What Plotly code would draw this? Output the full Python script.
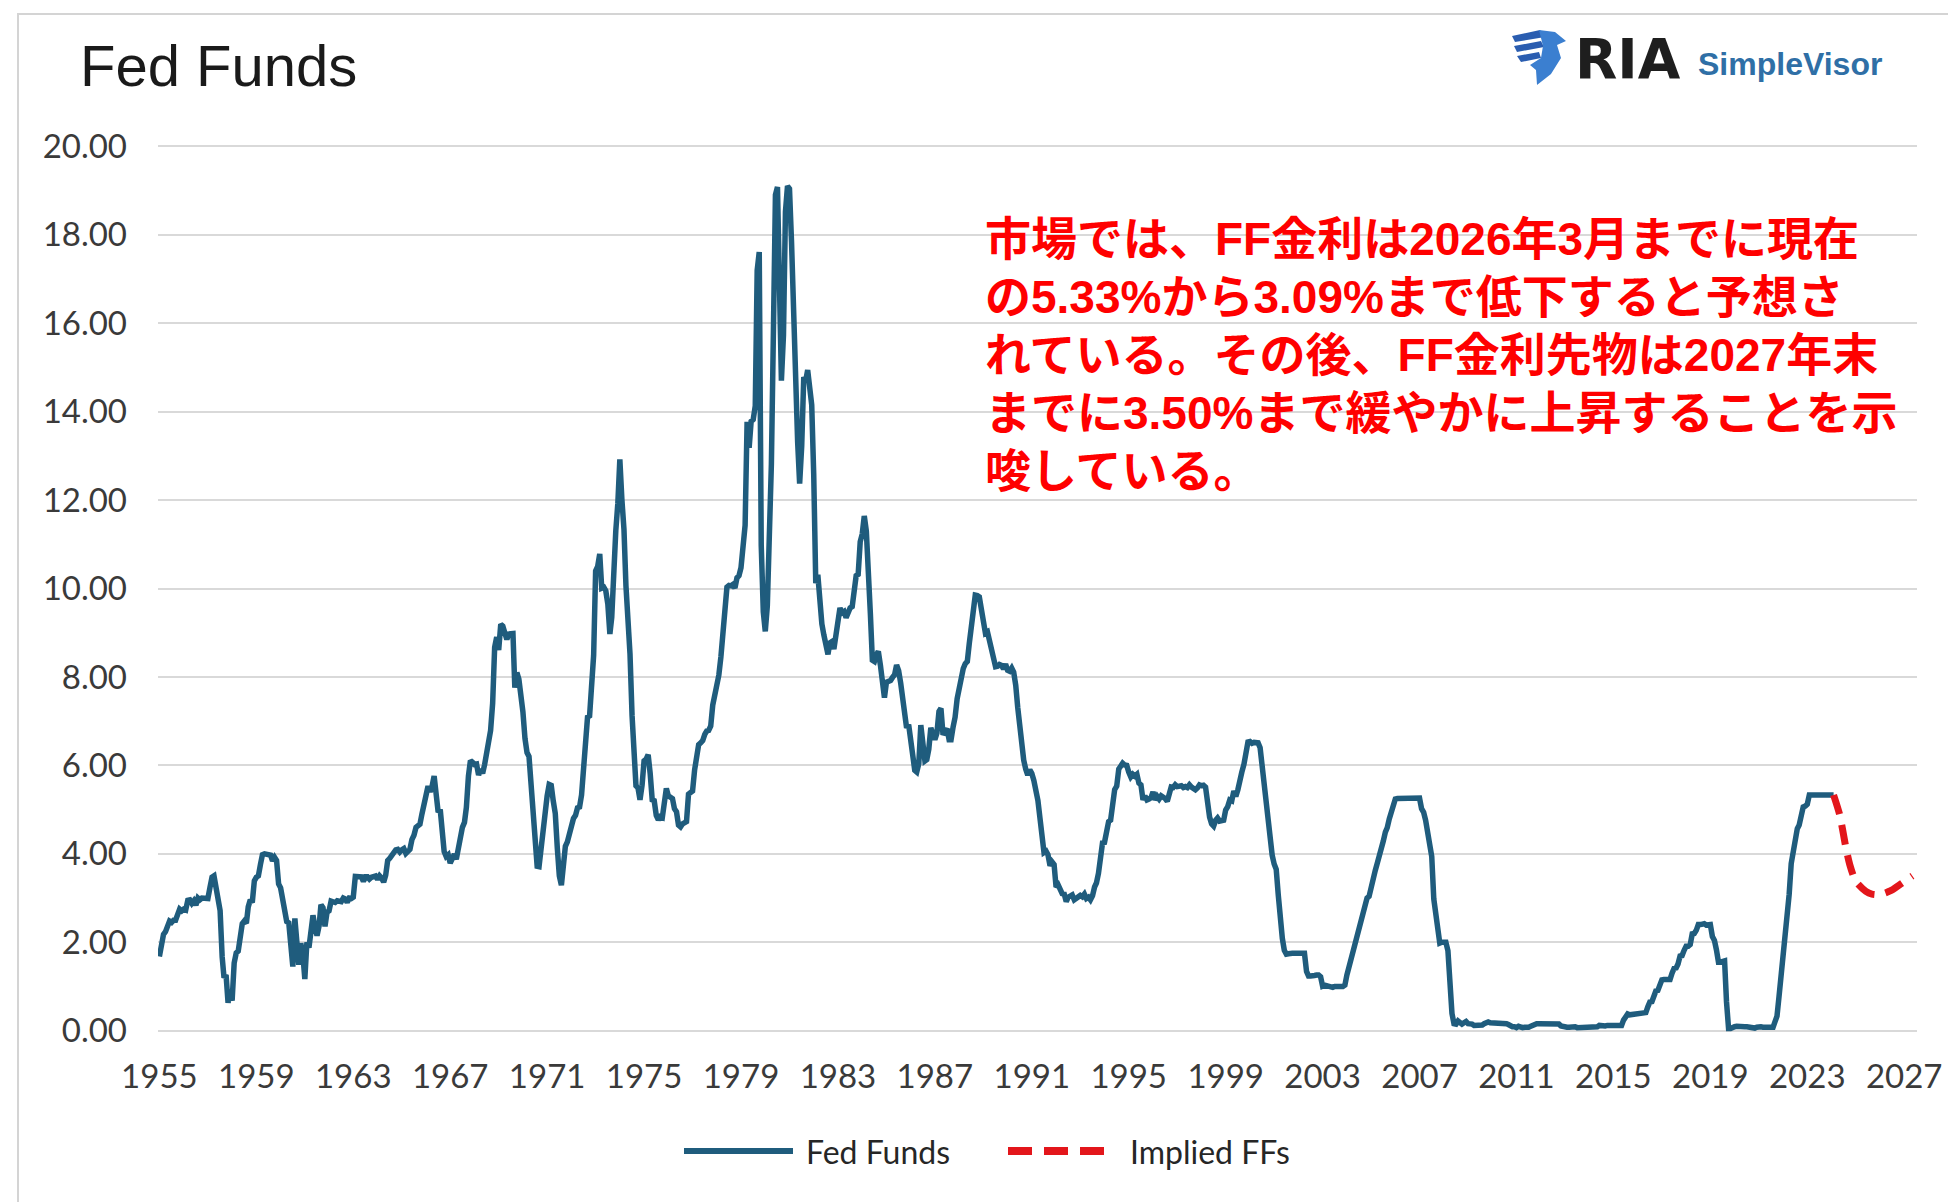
import pandas as pd
import plotly.graph_objects as go

# ---------------- data (monthly effective Fed Funds rate, %) ----------------
ff_1955_1959 = [
    1.68, 1.96, 2.18, 2.24, 2.35, 2.48,
    2.45, 2.50, 2.50, 2.62, 2.75, 2.71, 2.75, 2.73, 2.95, 2.96, 2.88, 2.94,
    2.84, 3.00, 2.96, 3.00, 3.00, 3.00, 2.99, 3.24, 3.47, 3.50, 3.28, 2.98,
    2.72, 1.67, 1.20, 1.26, 0.63, 0.93, 0.68, 1.53, 1.76, 1.80, 2.27, 2.42,
    2.48, 2.43, 2.80, 2.96, 2.90, 3.39, 3.47, 3.50, 3.76, 3.98, 4.00, 3.99,
]
ff_1960s = [
    3.99, 3.97, 3.84, 3.92, 3.85, 3.32, 3.23, 2.98, 2.60, 2.47, 2.44, 1.98,
    1.45, 2.54, 2.02, 1.49, 1.98, 1.73, 1.17, 2.00, 1.88, 2.26, 2.61, 2.33,
    2.15, 2.37, 2.85, 2.78, 2.36, 2.68, 2.71, 2.93, 2.90, 2.90, 2.94, 2.93,
    2.92, 3.00, 2.98, 2.90, 3.00, 2.99, 3.02, 3.49, 3.48, 3.50, 3.48, 3.38,
    3.48, 3.48, 3.43, 3.47, 3.50, 3.50, 3.42, 3.50, 3.45, 3.36, 3.52, 3.85,
    3.90, 3.98, 4.04, 4.09, 4.10, 4.04, 4.09, 4.12, 4.01, 4.08, 4.10, 4.32,
    4.42, 4.60, 4.65, 4.67, 4.90, 5.17, 5.30, 5.53, 5.40, 5.53, 5.76, 5.40,
    4.94, 5.00, 4.53, 4.05, 3.94, 3.98, 3.79, 3.90, 3.99, 3.88, 4.13, 4.51,
    4.60, 4.71, 5.05, 5.76, 6.11, 6.07, 6.02, 6.03, 5.78, 5.91, 5.82, 6.02,
    6.30, 6.64, 6.79, 7.41, 8.67, 8.90, 8.61, 9.19, 9.15, 9.00, 8.85, 8.97,
]
ff_1970s = [
    8.98, 8.98, 7.76, 8.10, 7.95, 7.61, 7.21, 6.61, 6.29, 6.20, 5.60, 4.90,
    4.14, 3.72, 3.71, 4.15, 4.63, 4.91, 5.31, 5.57, 5.55, 5.20, 4.91, 4.14,
    3.50, 3.29, 3.83, 4.17, 4.27, 4.46, 4.55, 4.80, 4.87, 5.04, 5.06, 5.33,
    5.94, 6.58, 7.09, 7.12, 7.84, 8.49, 10.40, 10.50, 10.78, 10.01, 10.03, 9.95,
    9.65, 8.97, 9.35, 10.51, 11.31, 11.93, 12.92, 12.01, 11.34, 10.06, 9.45, 8.53,
    7.13, 6.24, 5.54, 5.49, 5.22, 5.55, 6.10, 6.14, 6.24, 5.82, 5.22, 5.20,
    4.87, 4.77, 4.84, 4.82, 5.29, 5.48, 5.31, 5.29, 5.25, 5.02, 4.95, 4.65,
    4.61, 4.68, 4.69, 4.73, 5.35, 5.39, 5.42, 5.90, 6.14, 6.47, 6.51, 6.56,
    6.70, 6.78, 6.79, 6.89, 7.36, 7.60, 7.81, 8.04, 8.45, 8.96, 9.76, 10.03,
    10.07, 10.06, 10.09, 10.01, 10.24, 10.29, 10.47, 10.94, 11.43, 13.77, 13.18, 13.78,
]
ff_1980s = [
    13.82, 14.13, 17.19, 17.61, 10.98, 9.47, 9.03, 9.61, 10.87, 12.81, 15.85, 18.90,
    19.08, 15.93, 14.70, 15.72, 18.52, 19.10, 19.04, 17.82, 15.87, 15.08, 13.31, 12.37,
    13.22, 14.78, 14.68, 14.94, 14.45, 14.15, 12.59, 10.12, 10.31, 9.71, 9.20, 8.95,
    8.68, 8.51, 8.77, 8.80, 8.63, 8.98, 9.37, 9.56, 9.45, 9.48, 9.34, 9.47,
    9.56, 9.59, 9.91, 10.29, 10.32, 11.06, 11.23, 11.64, 11.30, 9.99, 9.43, 8.38,
    8.35, 8.50, 8.58, 8.27, 7.97, 7.53, 7.88, 7.90, 7.92, 7.99, 8.05, 8.27,
    8.14, 7.86, 7.48, 6.99, 6.85, 6.92, 6.56, 6.17, 5.89, 5.85, 6.04, 6.91,
    6.43, 6.10, 6.13, 6.37, 6.85, 6.73, 6.58, 6.73, 7.22, 7.29, 6.69, 6.77,
    6.83, 6.58, 6.58, 6.87, 7.09, 7.51, 7.75, 8.01, 8.19, 8.30, 8.35, 8.76,
    9.12, 9.36, 9.85, 9.84, 9.81, 9.53, 9.24, 8.99, 9.02, 8.84, 8.55, 8.45,
]
ff_1990s = [
    8.23, 8.24, 8.28, 8.26, 8.18, 8.29, 8.15, 8.13, 8.20, 8.11, 7.81, 7.31,
    6.91, 6.25, 6.12, 5.91, 5.78, 5.90, 5.82, 5.66, 5.45, 5.21, 4.81, 4.43,
    4.03, 4.06, 3.98, 3.73, 3.82, 3.76, 3.25, 3.30, 3.22, 3.10, 3.09, 2.92,
    3.02, 3.03, 3.07, 2.96, 3.00, 3.04, 3.06, 3.03, 3.09, 2.99, 3.02, 2.96,
    3.05, 3.25, 3.34, 3.56, 4.01, 4.25, 4.26, 4.47, 4.73, 4.76, 5.29, 5.45,
    5.53, 5.92, 5.98, 6.05, 6.01, 6.00, 5.85, 5.74, 5.80, 5.76, 5.80, 5.60,
    5.56, 5.22, 5.31, 5.22, 5.24, 5.27, 5.40, 5.22, 5.30, 5.24, 5.31, 5.29,
    5.25, 5.19, 5.39, 5.51, 5.50, 5.56, 5.52, 5.54, 5.54, 5.50, 5.52, 5.50,
    5.56, 5.51, 5.49, 5.45, 5.49, 5.56, 5.54, 5.55, 5.51, 5.07, 4.83, 4.68,
    4.63, 4.76, 4.81, 4.74, 4.74, 4.76, 4.99, 5.07, 5.22, 5.20, 5.42, 5.30,
]
ff_2000s = [
    5.45, 5.73, 5.85, 6.02, 6.27, 6.53, 6.54, 6.50, 6.52, 6.51, 6.51, 6.40,
    5.98, 5.49, 5.31, 4.80, 4.21, 3.97, 3.77, 3.65, 3.07, 2.49, 2.09, 1.82,
    1.73, 1.74, 1.73, 1.75, 1.75, 1.75, 1.73, 1.74, 1.75, 1.75, 1.34, 1.24,
    1.24, 1.26, 1.25, 1.26, 1.26, 1.22, 1.01, 1.03, 1.01, 1.01, 1.00, 0.98,
    1.00, 1.01, 1.00, 1.00, 1.00, 1.03, 1.26, 1.43, 1.61, 1.76, 1.93, 2.16,
    2.28, 2.50, 2.63, 2.79, 3.00, 3.04, 3.26, 3.50, 3.62, 3.78, 4.00, 4.16,
    4.29, 4.49, 4.59, 4.79, 4.94, 4.99, 5.24, 5.25, 5.25, 5.25, 5.25, 5.24,
    5.25, 5.26, 5.26, 5.25, 5.25, 5.25, 5.26, 5.02, 4.94, 4.76, 4.49, 4.24,
    3.94, 2.98, 2.61, 2.28, 1.98, 2.00, 2.01, 2.00, 1.81, 0.97, 0.39, 0.16,
    0.15, 0.22, 0.18, 0.15, 0.18, 0.21, 0.16, 0.16, 0.15, 0.12, 0.12, 0.12,
]
ff_2010s = [
    0.11, 0.13, 0.16, 0.20, 0.20, 0.18, 0.18, 0.19, 0.19, 0.19, 0.19, 0.18,
    0.17, 0.16, 0.14, 0.10, 0.09, 0.09, 0.07, 0.10, 0.08, 0.07, 0.08, 0.07,
    0.08, 0.10, 0.13, 0.14, 0.16, 0.16, 0.16, 0.13, 0.14, 0.16, 0.16, 0.16,
    0.14, 0.15, 0.14, 0.15, 0.11, 0.09, 0.09, 0.08, 0.08, 0.09, 0.08, 0.09,
    0.07, 0.07, 0.08, 0.09, 0.09, 0.10, 0.09, 0.09, 0.09, 0.09, 0.09, 0.12,
    0.11, 0.11, 0.11, 0.12, 0.12, 0.13, 0.13, 0.14, 0.14, 0.12, 0.12, 0.24,
    0.34, 0.38, 0.36, 0.37, 0.37, 0.38, 0.39, 0.40, 0.40, 0.40, 0.41, 0.54,
    0.65, 0.66, 0.79, 0.90, 0.91, 1.04, 1.15, 1.16, 1.15, 1.15, 1.16, 1.30,
    1.41, 1.42, 1.51, 1.69, 1.70, 1.82, 1.91, 1.91, 1.95, 2.19, 2.20, 2.27,
    2.40, 2.40, 2.41, 2.42, 2.39, 2.38, 2.40, 2.13, 2.04, 1.83, 1.55, 1.55,
]
ff_2020s = [
    1.55, 1.58, 0.65, 0.05, 0.05, 0.08, 0.09, 0.10, 0.09, 0.09, 0.09, 0.09,
    0.09, 0.08, 0.07, 0.07, 0.06, 0.08, 0.10, 0.09, 0.08, 0.08, 0.08, 0.08,
    0.08, 0.08, 0.20, 0.33, 0.77, 1.21, 1.68, 2.33, 2.56, 3.08, 3.78, 4.10,
    4.33, 4.57, 4.65, 4.83, 5.06, 5.08, 5.12, 5.33, 5.33, 5.33, 5.33, 5.33,
    5.33, 5.33, 5.33, 5.33, 5.33, 5.33, 5.33, 5.33,
]
implied_dates = ["2024-08-01", "2024-11-01", "2025-02-01", "2025-04-01", "2025-07-01",
                 "2025-12-01", "2026-03-01", "2026-07-01", "2026-12-01", "2027-05-01",
                 "2027-11-01"]
implied_values = [5.33, 4.88, 4.15, 3.76, 3.38, 3.15, 3.09, 3.08, 3.16, 3.31, 3.50]

tick_years = list(range(1955, 2028, 4))
y_ticks = [0, 2, 4, 6, 8, 10, 12, 14, 16, 18, 20]

note_lines = [
    "市場では、FF金利は2026年3月までに現在",
    "の5.33%から3.09%まで低下すると予想さ",
    "れている。その後、FF金利先物は2027年末",
    "までに3.50%まで緩やかに上昇することを示",
    "唆している。",
]

ff_values = (ff_1955_1959 + ff_1960s + ff_1970s + ff_1980s + ff_1990s
             + ff_2000s + ff_2010s + ff_2020s)
ff_dates = pd.date_range("1955-07-01", periods=len(ff_values), freq="MS")

# ---------------- layout geometry ----------------
W, H = 1956, 1202
L, R, T, B = 150, 47, 125, 166
PW, PH = W - L - R, H - T - B


def px(x):
    return (x - L) / PW


def py(y):
    return (H - B - y) / PH


BLUE = "#1f5c7d"
RED = "#e3161b"
TXT = "#3a3a3a"
AXFONT = "Lato"

fig = go.Figure()
fig.add_trace(go.Scatter(
    x=ff_dates, y=ff_values, mode="lines", name="Fed Funds",
    line=dict(color=BLUE, width=5.5), showlegend=False,
))
fig.add_trace(go.Scatter(
    x=implied_dates, y=implied_values, mode="lines", name="Implied FFs",
    line=dict(color=RED, width=7, dash="20px,11px", shape="spline", smoothing=0.7),
    showlegend=False,
))

fig.update_layout(
    width=W, height=H,
    margin=dict(l=L, r=R, t=T, b=B),
    paper_bgcolor="white", plot_bgcolor="white",
    showlegend=False,
    xaxis=dict(
        type="date",
        range=["1955-06-10", "2028-01-10"],
        tickvals=[f"{y}-07-01" for y in tick_years],
        ticktext=[str(y) for y in tick_years],
        showgrid=False, zeroline=False, showline=False, ticks="",
        tickfont=dict(family=AXFONT, size=33, color=TXT),
        ticklabelstandoff=10,
    ),
    yaxis=dict(
        range=[-0.3, 20.3],
        tickvals=y_ticks,
        ticktext=[f"{v:.2f}" for v in y_ticks],
        showgrid=True, gridcolor="#d9d9d9", gridwidth=2,
        zeroline=False, showline=False, ticks="",
        tickfont=dict(family=AXFONT, size=33, color=TXT),
        ticklabelstandoff=30,
    ),
)

annotations = [
    dict(text="Fed Funds", x=px(70), y=py(58), xref="paper", yref="paper",
         xanchor="left", yanchor="middle", showarrow=False,
         font=dict(family="Liberation Sans", size=58, color="#1a1a1a")),
    dict(text="<b>RIA</b>", x=px(1565), y=py(51), xref="paper", yref="paper",
         xanchor="left", yanchor="middle", showarrow=False,
         font=dict(family="DejaVu Sans", size=55, color="#1e1e1e")),
    dict(text="<b>SimpleVisor</b>", x=px(1688), y=py(56), xref="paper", yref="paper",
         xanchor="left", yanchor="middle", showarrow=False,
         font=dict(family="Liberation Sans", size=32, color="#2f6fa6")),
    dict(text="Fed Funds", x=px(796), y=py(1143), xref="paper", yref="paper",
         xanchor="left", yanchor="middle", showarrow=False,
         font=dict(family=AXFONT, size=32, color="#262626")),
    dict(text="Implied FFs", x=px(1120), y=py(1143), xref="paper", yref="paper",
         xanchor="left", yanchor="middle", showarrow=False,
         font=dict(family=AXFONT, size=32, color="#262626")),
]
# red commentary, one annotation per line (line pitch ~58 px)
for i, line in enumerate(note_lines):
    annotations.append(dict(
        text=f"<b>{line}</b>", x=px(975), y=py(231 + i * 58.0),
        xref="paper", yref="paper", xanchor="left", yanchor="middle",
        align="left", showarrow=False,
        font=dict(family="Liberation Sans, Noto Sans CJK JP", size=46, color="#ff0000"),
    ))
fig.update_layout(annotations=annotations)


def path(points):
    return "M " + " L ".join(f"{px(x):.5f},{py(y):.5f}" for x, y in points) + " Z"


shapes = [
    # outer frame
    dict(type="rect", xref="paper", yref="paper",
         x0=px(10), x1=px(1948), y0=py(1240), y1=py(6),
         line=dict(color="#d4d4d4", width=2), fillcolor="rgba(0,0,0,0)", layer="below"),
    # custom legend samples
    dict(type="line", xref="paper", yref="paper",
         x0=px(676), x1=px(785), y0=py(1143), y1=py(1143),
         line=dict(color=BLUE, width=6)),
    dict(type="line", xref="paper", yref="paper",
         x0=px(1000), x1=px(1100), y0=py(1143), y1=py(1143),
         line=dict(color=RED, width=8, dash="24px,12px")),
    # logo (stylised eagle)
    dict(type="path", xref="paper", yref="paper",
         path=path([(1504, 28), (1532, 22), (1537, 29), (1507, 34)]),
         fillcolor="#2a5db0", line=dict(width=0)),
    dict(type="path", xref="paper", yref="paper",
         path=path([(1506, 38), (1533, 33), (1536, 39), (1509, 44)]),
         fillcolor="#2a5db0", line=dict(width=0)),
    dict(type="path", xref="paper", yref="paper",
         path=path([(1509, 48), (1531, 44), (1533, 50), (1513, 54)]),
         fillcolor="#2a5db0", line=dict(width=0)),
    dict(type="path", xref="paper", yref="paper",
         path=path([(1531, 22), (1547, 24), (1558, 33), (1549, 37), (1553, 50),
                    (1543, 66), (1529, 77), (1528, 62), (1522, 57), (1533, 50), (1535, 38)]),
         fillcolor="#3b7fd0", line=dict(width=0)),
]
fig.update_layout(shapes=shapes)

fig.write_html("out.html")
